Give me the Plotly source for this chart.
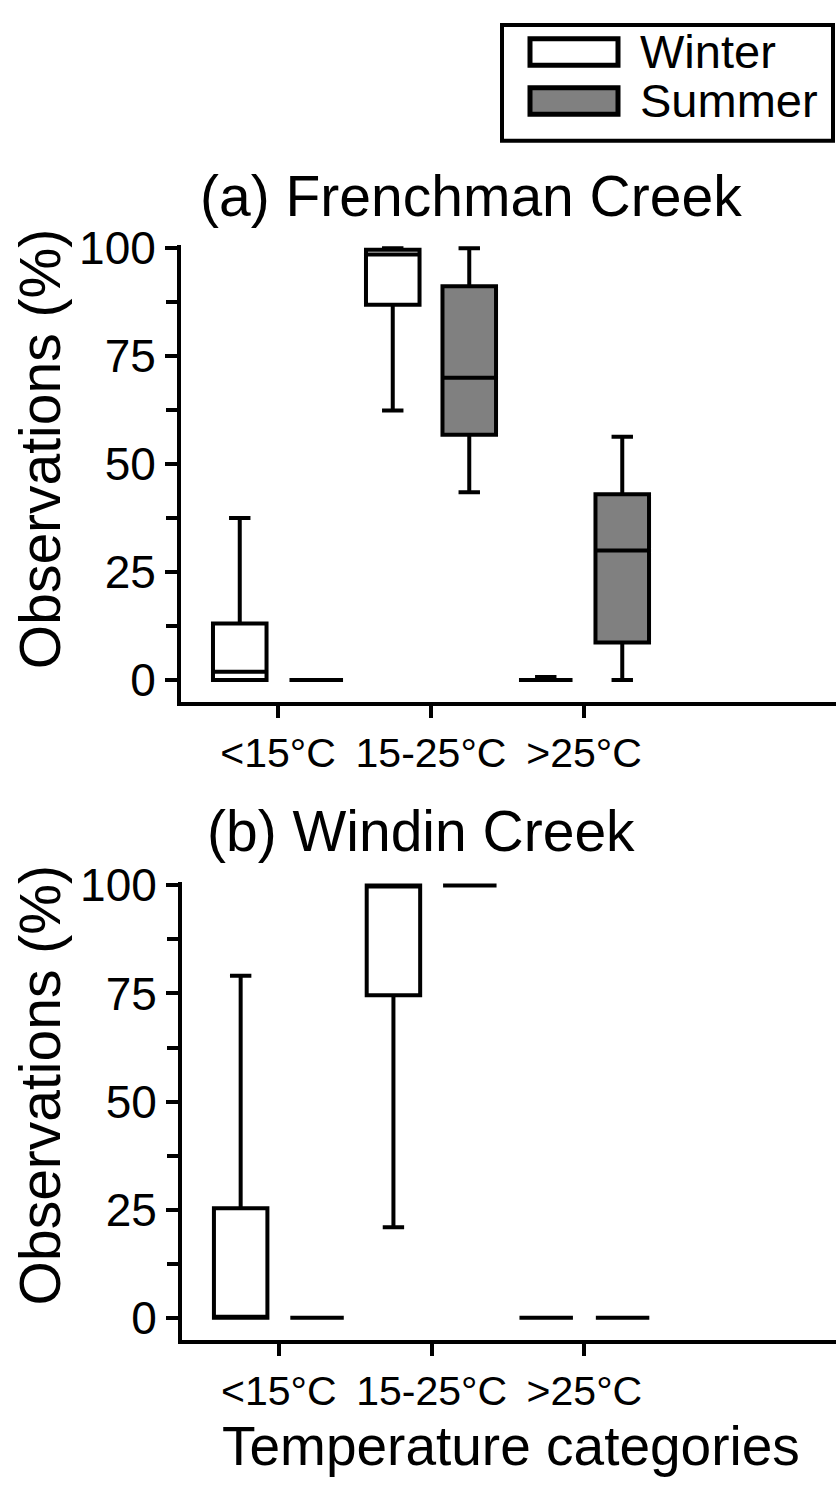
import plotly.graph_objects as go

W, H = 836, 1490

categories = ["<15°C", "15-25°C", ">25°C"]
seasons = ["Winter", "Summer"]
season_fill = {"Winter": "#ffffff", "Summer": "#808080"}

# (a) Frenchman Creek  (values in %)
a_winter_lower = [0.0, 62.4, 0.0]
a_winter_q1 = [0.0, 86.9, 0.0]
a_winter_median = [1.9, 98.5, 0.0]
a_winter_q3 = [13.1, 99.6, 0.0]
a_winter_upper = [37.5, 100.0, 0.7]

a_summer_lower = [0.0, 43.5, 0.0]
a_summer_q1 = [0.0, 56.8, 8.7]
a_summer_median = [0.0, 70.0, 30.0]
a_summer_q3 = [0.0, 91.2, 43.0]
a_summer_upper = [0.0, 100.0, 56.3]

# (b) Windin Creek
b_winter_lower = [0.0, 20.9, 0.0]
b_winter_q1 = [0.0, 74.6, 0.0]
b_winter_median = [0.0, 100.0, 0.0]
b_winter_q3 = [25.3, 100.0, 0.0]
b_winter_upper = [79.1, 100.0, 0.0]

b_summer_lower = [0.0, 100.0, 0.0]
b_summer_q1 = [0.0, 100.0, 0.0]
b_summer_median = [0.0, 100.0, 0.0]
b_summer_q3 = [0.0, 100.0, 0.0]
b_summer_upper = [0.0, 100.0, 0.0]

y_tickvals = [0, 25, 50, 75, 100]
panel_titles = ["(a) Frenchman Creek", "(b) Windin Creek"]
y_title = "Observations (%)"
x_title = "Temperature categories"

FONT = "Liberation Sans, Arial, sans-serif"
YTICK_SIZE = 46
XTICK_SIZE = 41
PANEL_TITLE_SIZE = 57
AXIS_TITLE_SIZE = 55
YTITLE_SIZE = 57
LEG_SIZE = 47
LW = 4

panels = {
    "a": {"Winter": (a_winter_lower, a_winter_q1, a_winter_median, a_winter_q3, a_winter_upper),
          "Summer": (a_summer_lower, a_summer_q1, a_summer_median, a_summer_q3, a_summer_upper)},
    "b": {"Winter": (b_winter_lower, b_winter_q1, b_winter_median, b_winter_q3, b_winter_upper),
          "Summer": (b_summer_lower, b_summer_q1, b_summer_median, b_summer_q3, b_summer_upper)},
}

fig = go.Figure()
for key, (xa, ya) in zip(["a", "b"], [("x", "y"), ("x2", "y2")]):
    for s in seasons:
        lo, q1, med, q3, up = panels[key][s]
        fig.add_trace(go.Box(
            x=categories, lowerfence=lo, q1=q1, median=med, q3=q3, upperfence=up,
            name=s, offsetgroup=s, xaxis=xa, yaxis=ya,
            fillcolor=season_fill[s], line=dict(color="black", width=LW),
            whiskerwidth=0.4, boxpoints=False, showlegend=False,
        ))

def px_x(p):
    return p / W

def px_y(p):
    return 1 - p / H

xaxis_common = dict(
    type="category", categoryorder="array", categoryarray=categories,
    range=[-0.634, 3.647], showline=True, linecolor="black", linewidth=LW,
    ticks="outside", ticklen=12, tickwidth=LW, tickcolor="black",
    tickfont=dict(size=XTICK_SIZE, color="black", family=FONT),
    showgrid=False, zeroline=False, fixedrange=True,
)
yaxis_common = dict(
    range=[-5.09, 100.75], tickvals=y_tickvals, showline=True, linecolor="black",
    linewidth=LW, ticks="outside", ticklen=12, tickwidth=LW, tickcolor="black",
    tickfont=dict(size=YTICK_SIZE, color="black", family=FONT),
    minor=dict(dtick=12.5, tick0=0, ticks="outside", ticklen=11, tickwidth=LW,
               tickcolor="black", showgrid=False),
    showgrid=False, zeroline=False, fixedrange=True,
)

fig.update_layout(
    width=W, height=H,
    margin=dict(l=0, r=0, t=0, b=0),
    paper_bgcolor="white", plot_bgcolor="white",
    font=dict(family=FONT, color="black"),
    boxmode="group", boxgap=0.0, boxgroupgap=0.3,
    xaxis=dict(domain=[px_x(181), 1], anchor="y", **xaxis_common),
    yaxis=dict(domain=[px_y(691.5), px_y(226)], anchor="x", **yaxis_common),
    xaxis2=dict(domain=[px_x(182), 1], anchor="y2", **xaxis_common),
    yaxis2=dict(domain=[px_y(1341), px_y(875)], anchor="x2", **yaxis_common),
)

ann = []
ann.append(dict(text=panel_titles[0], x=px_x(198), y=px_y(176), xref="paper", yref="paper",
                xanchor="left", yanchor="middle", showarrow=False,
                font=dict(size=PANEL_TITLE_SIZE, family=FONT, color="black")))
ann.append(dict(text=panel_titles[1], x=px_x(205), y=px_y(823), xref="paper", yref="paper",
                xanchor="left", yanchor="middle", showarrow=False,
                font=dict(size=PANEL_TITLE_SIZE, family=FONT, color="black")))
for cy in (434, 1082):
    ann.append(dict(text=y_title, x=px_x(40), y=px_y(cy), xref="paper", yref="paper",
                    xanchor="center", yanchor="middle", textangle=-90, showarrow=False,
                    font=dict(size=YTITLE_SIZE, family=FONT, color="black")))
ann.append(dict(text=x_title, x=px_x(511), y=px_y(1449), xref="paper", yref="paper",
                xanchor="center", yanchor="middle", showarrow=False,
                font=dict(size=AXIS_TITLE_SIZE, family=FONT, color="black")))

# legend (drawn as a framed key)
shapes = [
    dict(type="rect", xref="paper", yref="paper", x0=px_x(502), x1=px_x(833),
         y0=px_y(120), y1=px_y(2), line=dict(color="black", width=LW), fillcolor="white"),
]
for i, s in enumerate(seasons):
    top = 16 + i * 50
    shapes.append(dict(type="rect", xref="paper", yref="paper",
                       x0=px_x(530), x1=px_x(618), y0=px_y(top + 27), y1=px_y(top),
                       line=dict(color="black", width=LW + 1), fillcolor=season_fill[s]))
    ann.append(dict(text=s, x=px_x(638), y=px_y(top + 13), xref="paper", yref="paper",
                    xanchor="left", yanchor="middle", showarrow=False,
                    font=dict(size=LEG_SIZE, family=FONT, color="black")))

fig.update_layout(annotations=ann, shapes=shapes)
pin = ("document.documentElement.style.margin='0';document.body.style.margin='0';"
       "document.body.style.overflow='hidden';"
       "var g=document.getElementsByClassName('plotly-graph-div')[0];"
       "if(g){g.style.position='fixed';g.style.top='0px';g.style.left='0px';}")
fig.write_html("out.html", config={"displayModeBar": False}, post_script=pin)
